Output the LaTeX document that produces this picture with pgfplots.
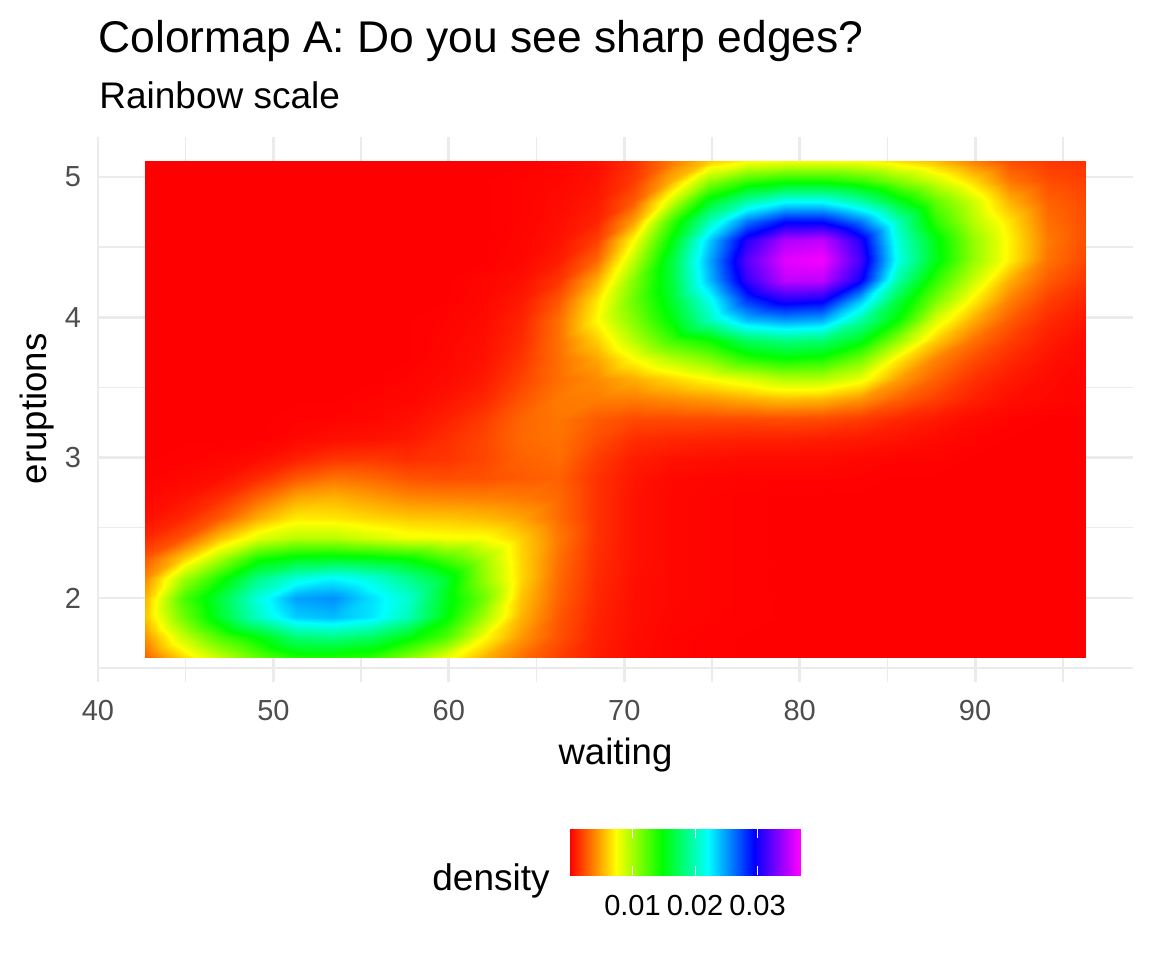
\documentclass[border=0pt]{standalone}
\usepackage{pgfplots}
\pgfplotsset{compat=1.18}
\usepackage{fontspec}
\setmainfont{Liberation Sans}
\definecolor{gridc}{HTML}{EBEBEB}
\definecolor{tickc}{HTML}{4D4D4D}
\pgfplotsset{colormap={gg}{rgb255=(255,0,0) rgb255=(255,255,0) rgb255=(0,255,0) rgb255=(0,255,255) rgb255=(0,0,255) rgb255=(255,0,255)}}
\begin{document}
\begin{tikzpicture}
\path[use as bounding box] (0,0) rectangle (576pt,480pt);
\node[anchor=base west,inner sep=0pt] at (49pt,453.5pt) {\fontsize{22.2}{26}\selectfont Colormap A: Do you see sharp edges?};
\node[anchor=base west,inner sep=0pt] at (49.5pt,425.5pt) {\fontsize{18.5}{22}\selectfont Rainbow scale};
\begin{axis}[
  at={(49pt,139pt)},anchor=south west,
  scale only axis,width=517.5pt,height=272.5pt,
  xmin=40,xmax=99,ymin=1.401,ymax=5.285,
  xtick={40,50,60,70,80,90},minor xtick={45,55,65,75,85,95},
  ytick={2,3,4,5},minor ytick={1.5,2.5,3.5,4.5},
  grid=both,
  major grid style={draw=gridc,line width=1.4pt},
  minor grid style={draw=gridc,line width=0.7pt},
  axis line style={draw=none},
  major tick length=0pt,minor tick length=0pt,
  tick style={draw=none},
  /pgf/number format/assume math mode=true,
  tick label style={font=\fontsize{14.5}{17}\selectfont,text=tickc},
  xticklabel style={yshift=-5.5pt},
  yticklabel style={xshift=-5pt},
  xlabel={waiting},ylabel={eruptions},
  label style={font=\fontsize{18.3}{22}\selectfont},
  xlabel style={anchor=base,at={(axis description cs:0.5,-0.1516)}},
  ylabel style={anchor=base,at={(axis description cs:-0.05,0.501)}},
  point meta min=0,point meta max=36.8,
  colormap name=gg,
]
\addplot[surf,shader=interp,mesh/cols=26,point meta=\thisrow{z}] table[row sep=\\,
  x expr={42.68+2.1448*mod(\coordindex,26)},
  y expr={5.114-0.1414*floor((\coordindex+0.5)/26)}] {
z\\
0\\0\\0\\0\\0\\0\\0\\0\\0\\0\\0\\0.1\\0.4\\1.3\\3.5\\5.8\\7.2\\7.6\\7.5\\7.4\\6.5\\5.5\\3.7\\2.2\\1.6\\1.4\\
0\\0\\0\\0\\0\\0\\0\\0\\0\\0\\0.1\\0.2\\0.5\\1.7\\5.2\\10.5\\13.2\\14.2\\14.2\\13.2\\11\\8.8\\6.3\\3.4\\2.2\\1.8\\
0\\0\\0\\0\\0\\0\\0\\0\\0\\0\\0.1\\0.3\\0.7\\2.6\\8.8\\15.5\\19.5\\21.8\\21.8\\19.5\\15.7\\12\\8.7\\5.1\\2.8\\2.1\\
0\\0\\0\\0\\0\\0\\0\\0\\0\\0\\0.1\\0.4\\1\\4.6\\13\\20\\26\\29\\29\\26\\20\\13.5\\9.5\\6.5\\3.2\\2.2\\
0\\0\\0\\0\\0\\0\\0\\0\\0\\0\\0.15\\0.5\\1.8\\7.4\\15\\23.5\\30.5\\34.5\\35\\30.5\\21\\15.3\\10.5\\7\\3.5\\2.2\\
0\\0\\0\\0\\0\\0\\0\\0\\0\\0\\0.2\\0.8\\3\\9.3\\16.5\\24.5\\32\\36\\36.5\\31.5\\21.5\\15.5\\10.5\\6.9\\3.3\\2\\
0\\0\\0\\0\\0\\0\\0\\0\\0\\0.15\\0.4\\1.5\\5\\11\\16.5\\24\\31\\35\\35\\30\\19.5\\13.5\\9\\5\\2.6\\1.5\\
0\\0\\0\\0\\0\\0\\0\\0\\0\\0.2\\0.7\\2.5\\6.7\\11.7\\16\\21.5\\28\\30.5\\30\\24\\16.5\\11.3\\7\\3.7\\1.8\\1\\
0\\0\\0\\0\\0\\0\\0\\0\\0.1\\0.3\\1\\3.2\\7.3\\11\\15\\20\\24\\25\\24.5\\19.5\\14.5\\8.5\\5\\2.6\\1.2\\0.6\\
0\\0\\0\\0\\0\\0\\0\\0\\0.15\\0.4\\1.2\\3.3\\6\\9.5\\13\\14.5\\17.5\\18.5\\18\\15.5\\10.5\\6\\3.3\\1.8\\0.8\\0.3\\
0\\0\\0\\0\\0\\0\\0\\0\\0.2\\0.5\\1.5\\3.2\\4.8\\7.4\\9.5\\11\\13.5\\14.5\\14\\11.5\\6.8\\3.8\\2.2\\1.2\\0.5\\0.2\\
0\\0\\0\\0\\0\\0\\0\\0.1\\0.3\\0.7\\1.9\\3.2\\4\\5\\6.2\\7.3\\8.3\\9.5\\9.5\\8\\4.6\\2.8\\1.4\\0.7\\0.3\\0.1\\
0\\0\\0\\0\\0\\0\\0.1\\0.2\\0.5\\1.1\\2.4\\3.5\\3.6\\3.6\\4\\4.4\\5\\5.5\\5.3\\4.3\\2.8\\1.8\\0.9\\0.4\\0.2\\0.1\\
0\\0\\0\\0\\0.05\\0.1\\0.2\\0.4\\0.9\\1.7\\2.9\\3.4\\2.6\\2.1\\2.1\\2.1\\2.1\\2.2\\2.1\\1.7\\1.1\\0.7\\0.3\\0.1\\0\\0\\
0\\0\\0\\0\\0.2\\0.4\\0.5\\0.7\\1.3\\2\\3\\3.3\\2.2\\1.3\\1.1\\1\\0.9\\0.9\\0.8\\0.7\\0.5\\0.3\\0.1\\0\\0\\0\\
0\\0.05\\0.15\\0.35\\0.9\\1.5\\1.6\\1.3\\1.5\\2\\2.8\\3.1\\1.7\\0.8\\0.5\\0.4\\0.3\\0.3\\0.3\\0.2\\0.1\\0.1\\0\\0\\0\\0\\
0.05\\0.2\\0.4\\1.2\\2.5\\3.3\\3\\2.4\\2.2\\2.3\\2.6\\2.8\\1.4\\0.6\\0.25\\0.15\\0.1\\0.1\\0.1\\0.05\\0\\0\\0\\0\\0\\0\\
0.2\\0.5\\1.3\\3\\4.8\\5.2\\4.6\\4\\3.8\\3.7\\3.5\\3\\1.4\\0.5\\0.2\\0.1\\0.05\\0\\0\\0\\0\\0\\0\\0\\0\\0\\
0.4\\1.1\\2.6\\5\\6.8\\6.7\\6.2\\5.8\\5.7\\5.4\\4.7\\3.1\\1.4\\0.5\\0.2\\0.1\\0.05\\0\\0\\0\\0\\0\\0\\0\\0\\0\\
1.1\\2.4\\5.6\\8.3\\9.4\\9.4\\8.6\\7.8\\7.6\\7.5\\6\\3.5\\1.4\\0.5\\0.2\\0.1\\0.05\\0\\0\\0\\0\\0\\0\\0\\0\\0\\
2.5\\5.8\\9.8\\14\\15.3\\15.5\\15.2\\14.5\\12.5\\10\\6.2\\3.2\\1.3\\0.5\\0.2\\0.1\\0.05\\0\\0\\0\\0\\0\\0\\0\\0\\0\\
3.9\\9.9\\14\\18.5\\21\\22.2\\21\\18.8\\16\\10.5\\6.2\\3\\1.2\\0.45\\0.2\\0.1\\0.05\\0\\0\\0\\0\\0\\0\\0\\0\\0\\
5.2\\12.5\\16.5\\21.2\\24.8\\25.3\\23\\20.7\\15.5\\11.5\\5.7\\2.8\\1.1\\0.4\\0.2\\0.1\\0.05\\0\\0\\0\\0\\0\\0\\0\\0\\0\\
5.6\\11.5\\16\\20.5\\23.5\\24\\22.8\\20\\15\\10\\5.2\\2.5\\1\\0.4\\0.15\\0.1\\0.05\\0\\0\\0\\0\\0\\0\\0\\0\\0\\
4.2\\9\\12.5\\15\\18\\18.5\\17.5\\15.2\\12.5\\7.5\\4.4\\2.3\\0.9\\0.35\\0.1\\0.05\\0\\0\\0\\0\\0\\0\\0\\0\\0\\0\\
2.8\\6.3\\9.2\\12\\14\\14\\13.5\\11\\8\\5.2\\3.2\\1.8\\0.8\\0.3\\0.1\\0.05\\0\\0\\0\\0\\0\\0\\0\\0\\0\\0\\
};
\end{axis}
\node[anchor=base east,inner sep=0pt] at (275pt,35pt) {\fontsize{18.5}{22}\selectfont density};
\begin{axis}[
  at={(285pt,42.5pt)},anchor=south west,
  scale only axis,width=115pt,height=23pt,
  xmin=0,xmax=36.8,ymin=0,ymax=1,
  axis line style={draw=none},
  ytick=\empty,
  xtick={10,20,30},xticklabels={0.01,0.02,0.03},
  tick align=inside,major tick length=4.6pt,
  tick style={draw=white,line width=0.5pt},
  xtick pos=both,xticklabel pos=lower,
  tick label style={font=\fontsize{14.5}{17}\selectfont},
  xticklabel style={yshift=-6.5pt},
  axis on top,
  point meta min=0,point meta max=36.8,
  colormap name=gg,
]
\addplot[surf,shader=interp,mesh/cols=2,point meta=x] coordinates {(0,0) (36.8,0) (0,1) (36.8,1)};
\end{axis}
\end{tikzpicture}
\end{document}
